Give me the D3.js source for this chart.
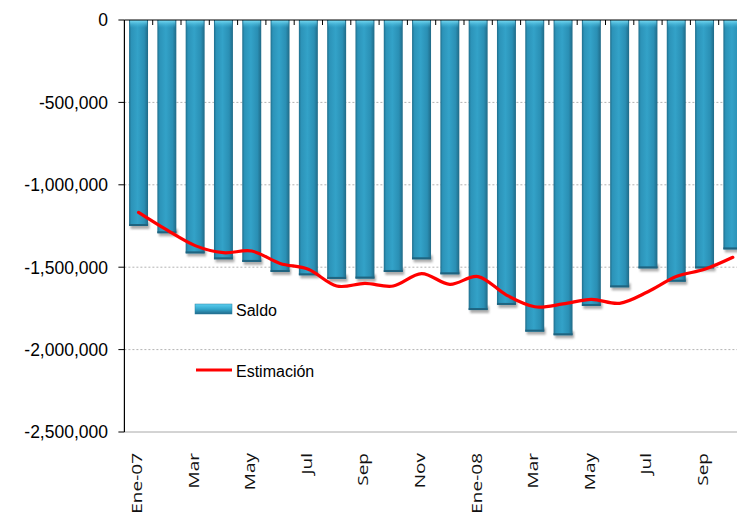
<!DOCTYPE html>
<html>
<head>
<meta charset="utf-8">
<script src="https://cdn.jsdelivr.net/npm/d3@7"></script>
<style>
  html, body { margin: 0; padding: 0; background: #fff; }
  svg { display: block; }
</style>
</head>
<body>
<svg id="chart" width="737" height="513"></svg>
<script>
const months = ["Ene-07","Feb-07","Mar-07","Abr-07","May-07","Jun-07","Jul-07","Ago-07","Sep-07","Oct-07","Nov-07","Dic-07",
                "Ene-08","Feb-08","Mar-08","Abr-08","May-08","Jun-08","Jul-08","Ago-08","Sep-08","Oct-08"];
const tickLabels = ["Ene-07","","Mar","","May","","Jul","","Sep","","Nov","",
                    "Ene-08","","Mar","","May","","Jul","","Sep",""];
const saldo = [-1250000,-1294000,-1416000,-1452000,-1468000,-1529000,-1549000,-1571000,-1569000,-1529000,-1452000,-1543000,
               -1760000,-1729000,-1891000,-1913000,-1735000,-1622000,-1507000,-1588000,-1507000,-1392000];
const estimacion = [-1167000,-1274000,-1369000,-1412000,-1402000,-1477000,-1513000,-1614000,-1598000,-1614000,-1539000,-1604000,
                    -1557000,-1669000,-1740000,-1723000,-1695000,-1719000,-1649000,-1557000,-1513000,-1440000];
const yTicks = [0,-500000,-1000000,-1500000,-2000000,-2500000];
const seriesNames = ["Saldo","Estimación"];

(function () {
const svg = d3.select("#chart");
const leftX = 124.4, topY = 20, bottomY = 432, step = 28.3;
const x = d3.scaleBand().domain(months).range([leftX, leftX + step * months.length])
  .paddingInner(0.33).paddingOuter(0.165);
const y = d3.scaleLinear().domain([-2500000, 0]).range([bottomY, topY]);
const fmt = v => d3.format(",")(v).replace("\u2212", "-");

const defs = svg.append("defs");
const g1 = defs.append("linearGradient").attr("id","barGrad").attr("x1","0").attr("x2","1").attr("y1","0").attr("y2","0");
[["0%","#1f6e8c"],["12%","#2c93b8"],["45%","#33a2c8"],["80%","#2a8fb4"],["100%","#206a87"]]
  .forEach(s => g1.append("stop").attr("offset", s[0]).attr("stop-color", s[1]));
const g2 = defs.append("linearGradient").attr("id","capGrad").attr("x1","0").attr("x2","0").attr("y1","0").attr("y2","1");
g2.append("stop").attr("offset","0%").attr("stop-color","#7fe0f7").attr("stop-opacity",1);
g2.append("stop").attr("offset","100%").attr("stop-color","#3ab2d8").attr("stop-opacity",0);
const g3 = defs.append("linearGradient").attr("id","legGrad").attr("x1","0").attr("x2","0").attr("y1","0").attr("y2","1");
[["0%","#5ccff0"],["50%","#35a8cd"],["100%","#21698a"]]
  .forEach(s => g3.append("stop").attr("offset", s[0]).attr("stop-color", s[1]));
const f = defs.append("filter").attr("id","shadow").attr("x","-30%").attr("y","-30%").attr("width","160%").attr("height","160%");
f.append("feGaussianBlur").attr("stdDeviation", 1.3);

// gridlines
svg.append("g").selectAll("line").data(yTicks.filter(v => v !== 0 && v !== -2500000)).join("line")
  .attr("x1", leftX).attr("x2", 737).attr("y1", d => y(d)).attr("y2", d => y(d))
  .attr("stroke", "#b3b3b3").attr("stroke-width", 1).attr("stroke-dasharray", "2,2");
svg.append("line").attr("x1", leftX).attr("x2", 737).attr("y1", y(-2500000)).attr("y2", y(-2500000))
  .attr("stroke", "#a8a8a8").attr("stroke-width", 1);

// bar shadows
svg.append("g").selectAll("rect").data(saldo).join("rect")
  .attr("x", (d,i) => x(months[i]) + 1.5).attr("width", x.bandwidth())
  .attr("y", d => y(d) - 4).attr("height", 7)
  .attr("fill", "#6b6b6b").attr("opacity", 0.55).attr("filter", "url(#shadow)");
// bars
const bars = svg.append("g");
bars.selectAll("rect.b").data(saldo).join("rect").attr("class","b")
  .attr("x", (d,i) => x(months[i])).attr("width", x.bandwidth())
  .attr("y", y(0)).attr("height", d => y(d) - y(0))
  .attr("fill", "url(#barGrad)");
bars.selectAll("rect.cap").data(saldo).join("rect").attr("class","cap")
  .attr("x", (d,i) => x(months[i]) + 1).attr("width", x.bandwidth() - 2)
  .attr("y", y(0)).attr("height", 8)
  .attr("fill", "url(#capGrad)");
bars.selectAll("rect.bot").data(saldo).join("rect").attr("class","bot")
  .attr("x", (d,i) => x(months[i])).attr("width", x.bandwidth())
  .attr("y", d => y(d) - 2).attr("height", 2)
  .attr("fill", "#1f6480");

// y axis
svg.append("line").attr("x1", leftX).attr("x2", leftX).attr("y1", topY).attr("y2", bottomY)
  .attr("stroke", "#000").attr("stroke-width", 1.2);
svg.append("g").selectAll("line").data(yTicks).join("line")
  .attr("x1", leftX - 6).attr("x2", leftX).attr("y1", d => y(d)).attr("y2", d => y(d))
  .attr("stroke", "#000");
svg.append("g").selectAll("text").data(yTicks).join("text")
  .attr("x", 108).attr("y", d => y(d)).attr("dy", "0.36em")
  .attr("text-anchor", "end")
  .attr("font-family", "'Liberation Sans', Arial, sans-serif").attr("font-size", 17.5)
  .attr("fill", "#000")
  .text(d => fmt(d));

// top category axis (at 0)
svg.append("line").attr("x1", leftX).attr("x2", 737).attr("y1", y(0)).attr("y2", y(0))
  .attr("stroke", "#000").attr("stroke-width", 1.2);
svg.append("g").selectAll("line").data(months.slice(1)).join("line")
  .attr("x1", d => x(d) - x.step() * x.paddingInner() / 2).attr("x2", d => x(d) - x.step() * x.paddingInner() / 2)
  .attr("y1", y(0)).attr("y2", y(0) + 5).attr("stroke", "#000");

// x labels
svg.append("g").selectAll("text").data(months).join("text")
  .attr("transform", d => `translate(${x(d) + x.bandwidth()/2 + 3.5},453) rotate(-90) scale(1.33,1)`)
  .attr("text-anchor", "end")
  .attr("font-family", "'Open Sans', sans-serif").attr("font-size", 14.3)
  .attr("fill", "#111")
  .text((d,i) => tickLabels[i]);

// estimation line
const line = d3.line()
  .x((d,i) => x(months[i]) + x.bandwidth()/2)
  .y(d => y(d))
  .curve(d3.curveCatmullRom.alpha(0));
svg.append("path").datum(estimacion).attr("d", line)
  .attr("fill", "none").attr("stroke", "#ff0000").attr("stroke-width", 3.2)
  .attr("stroke-linejoin", "round").attr("stroke-linecap", "round");

// legend
const leg = svg.append("g");
leg.append("rect").attr("x", 195).attr("y", 304).attr("width", 37).attr("height", 10)
  .attr("fill", "url(#legGrad)").attr("stroke", "#2a7f9e").attr("stroke-width", 0.5);
leg.append("text").attr("x", 236).attr("y", 316).text(seriesNames[0])
  .attr("font-family", "'Liberation Sans', Arial, sans-serif").attr("font-size", 16).attr("fill", "#000");
leg.append("line").attr("x1", 196).attr("x2", 232).attr("y1", 370).attr("y2", 370)
  .attr("stroke", "#ff0000").attr("stroke-width", 3);
leg.append("text").attr("x", 236).attr("y", 377).text(seriesNames[1])
  .attr("font-family", "'Liberation Sans', Arial, sans-serif").attr("font-size", 16).attr("fill", "#000");
})();
</script>
</body>
</html>
